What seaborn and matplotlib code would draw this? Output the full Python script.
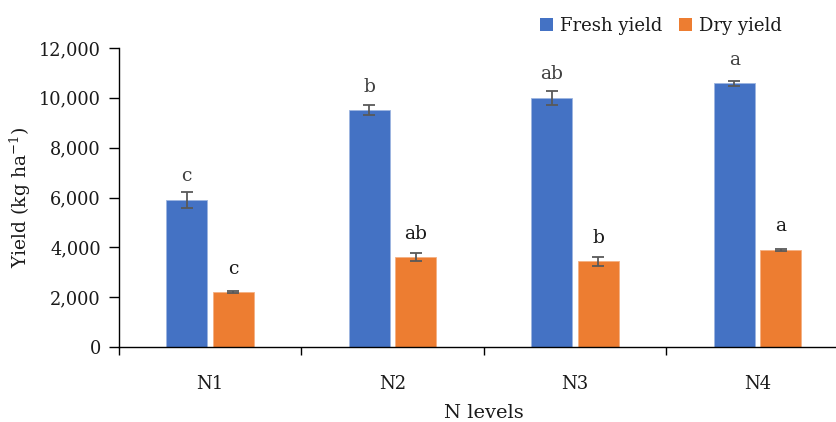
import matplotlib
matplotlib.use("Agg")
import matplotlib.pyplot as plt
from matplotlib.patches import Patch
import seaborn as sns
import pandas as pd
import numpy as np

# ---- data ----
levels = ["N1", "N2", "N3", "N4"]
fresh_yield = [5900, 9500, 10000, 10580]
fresh_err = [340, 200, 270, 115]
fresh_letters = ["c", "b", "ab", "a"]
dry_yield = [2200, 3600, 3440, 3910]
dry_err = [40, 160, 180, 40]
dry_letters = ["c", "ab", "b", "a"]
series = ["Fresh yield", "Dry yield"]
colors = ["#4472C4", "#ED7D31"]
y_ticks = [0, 2000, 4000, 6000, 8000, 10000, 12000]

df = pd.DataFrame({
    "level": levels * 2,
    "type": [series[0]] * 4 + [series[1]] * 4,
    "value": fresh_yield + dry_yield,
})

sns.set_theme(style="white")
plt.rcParams["font.family"] = ["DejaVu Serif"]
plt.rcParams["mathtext.fontset"] = "dejavuserif"

fig = plt.figure(figsize=(8.36, 4.22), dpi=100)
ax = fig.add_axes([118.8 / 836, 75 / 422, 730 / 836, 299 / 422])

sns.barplot(data=df, x="level", y="value", hue="type", order=levels,
            hue_order=series, palette=colors, saturation=1, width=0.51,
            gap=0.12, errorbar=None, ax=ax, legend=False,
            edgecolor="#9db5e0", linewidth=0.6)

# orange bars get a lighter orange outline
for bar in ax.containers[1].patches:
    bar.set_edgecolor("#f4b183")

errs = [fresh_err, dry_err]
vals = [fresh_yield, dry_yield]
letters = [fresh_letters, dry_letters]
letter_colors = ["#404040", "#1a1a1a"]
bar_containers = list(ax.containers)[:2]
for ci, cont in enumerate(bar_containers):
    for bi, bar in enumerate(list(cont.patches)):
        xc = bar.get_x() + bar.get_width() / 2
        ax.errorbar(xc, vals[ci][bi], yerr=errs[ci][bi], fmt="none",
                    ecolor="#595959", elinewidth=1.3, capsize=4,
                    capthick=1.3, zorder=5)
        ax.annotate(letters[ci][bi], (xc, vals[ci][bi]), xytext=(0, 17),
                    textcoords="offset points", ha="center", va="center",
                    fontsize=13.5, color=letter_colors[ci])

ax.set_ylim(0, 12000)
ax.set_xlim(-0.5, 3.5)
ax.set_yticks(y_ticks)
ax.set_yticklabels([f"{v:,}" for v in y_ticks], fontsize=12.8)
ax.set_xticks(range(len(levels)))
ax.set_xticklabels(levels, fontsize=13)
ax.set_xticks([-0.5, 0.5, 1.5, 2.5, 3.5], minor=True)
ax.tick_params(axis="x", which="major", length=0, pad=20, colors="#1a1a1a")
ax.tick_params(axis="x", which="minor", length=6, width=1, color="black",
               direction="out", bottom=True)
ax.tick_params(axis="y", which="major", length=7, width=1, color="black",
               direction="out", left=True, pad=6, labelcolor="#1a1a1a")

for s in ["top", "right"]:
    ax.spines[s].set_visible(False)
for s in ["left", "bottom"]:
    ax.spines[s].set_color("black")
    ax.spines[s].set_linewidth(1.0)

ax.set_xlabel("N levels", fontsize=14, labelpad=8, color="#1a1a1a")
ax.set_ylabel(r"Yield (kg ha$^{-1}$)", fontsize=13.5, labelpad=4, color="#1a1a1a")

handles = [Patch(facecolor=c, edgecolor="none") for c in colors]
fig.legend(handles, series, loc="center", bbox_to_anchor=(661 / 836, 1 - 26 / 422),
           ncol=2, frameon=False, fontsize=13, handlelength=0.72,
           handleheight=0.72, handletextpad=0.4, columnspacing=0.9,
           labelcolor="#1a1a1a")

fig.savefig("out.png", dpi=100)
